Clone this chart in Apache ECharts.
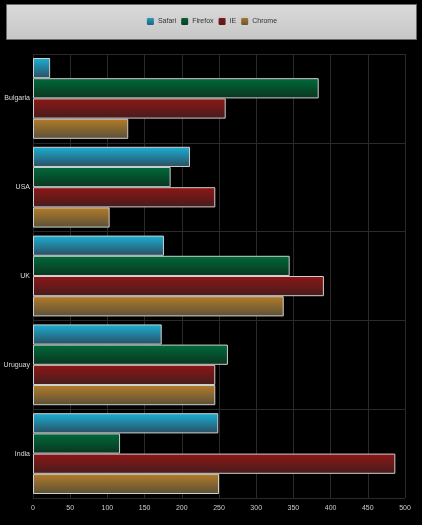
<!DOCTYPE html>
<html>
<head>
<meta charset="utf-8">
<style>
  html, body { margin: 0; padding: 0; background: #000; }
  #chart { width: 422px; height: 525px; }
</style>
<script src="https://cdn.jsdelivr.net/npm/echarts@6/dist/echarts.min.js"></script>
</head>
<body>
<div id="chart"></div>
<script>
const countries = ['Bulgaria', 'USA', 'UK', 'Uruguay', 'India']
const safari = [23, 211, 176, 173, 249]
const firefox = [384, 185, 345, 262, 117]
const ie = [259, 245, 391, 245, 487]
const chrome = [128, 103, 337, 245, 250]
const xTicks = [0, 50, 100, 150, 200, 250, 300, 350, 400, 450, 500]

// top / bottom gradient colours per browser
const colors = {
  Safari: ['#1bb0d4', '#2a4e62'],
  Firefox: ['#006a3a', '#0a3520'],
  IE: ['#8e1616', '#461c1c'],
  Chrome: ['#b47c28', '#5a5038']
}

function grad(name) {
  const c = colors[name]
  return new echarts.graphic.LinearGradient(0, 0, 0, 1, [
    { offset: 0, color: c[0] },
    { offset: 1, color: c[1] }
  ])
}

function makeSeries(name, data) {
  return {
    name: name,
    type: 'bar',
    data: data,
    barGap: '0%',
    barCategoryGap: '9%',
    itemStyle: {
      color: grad(name),
      borderColor: '#cfcfcf',
      borderWidth: 1
    }
  }
}

const chart = echarts.init(document.getElementById('chart'))
chart.setOption({
  backgroundColor: '#000',
  animation: false,
  graphic: [{
    type: 'rect',
    left: 6,
    top: 4,
    shape: { width: 410, height: 35 },
    style: {
      fill: new echarts.graphic.LinearGradient(0, 0, 0, 1, [
        { offset: 0, color: '#dadada' },
        { offset: 1, color: '#c6c6c6' }
      ]),
      stroke: '#6a6a6a',
      lineWidth: 1
    },
    z: -1
  }],
  legend: {
    top: 11,
    left: 'center',
    icon: 'roundRect',
    itemWidth: 9,
    itemHeight: 9,
    itemGap: 3,
    textStyle: { color: '#333', fontSize: 7, fontFamily: 'Liberation Sans', padding: [0, 0, 0, -2] },
    data: ['Safari', 'Firefox', 'IE', 'Chrome']
  },
  grid: {
    left: 33,
    right: 17,
    top: 54,
    bottom: 27,
    outerBoundsMode: 'none'
  },
  xAxis: {
    type: 'value',
    min: 0,
    max: 500,
    interval: 50,
    axisLine: { show: false },
    axisTick: { show: false },
    axisLabel: {
      color: '#ccc',
      fontSize: 7,
      fontFamily: 'Liberation Sans',
      margin: 7,
      formatter: v => xTicks.indexOf(v) >= 0 ? String(v) : ''
    },
    splitLine: { lineStyle: { color: '#2a2a2a', width: 1 } }
  },
  yAxis: {
    type: 'category',
    inverse: true,
    data: countries,
    axisLine: { show: false },
    axisTick: { show: false },
    axisLabel: { color: '#ddd', fontSize: 7, fontFamily: 'Liberation Sans', margin: 3 },
    splitLine: { show: true, lineStyle: { color: '#2a2a2a', width: 1 } }
  },
  series: [
    makeSeries('Safari', safari),
    makeSeries('Firefox', firefox),
    makeSeries('IE', ie),
    makeSeries('Chrome', chrome)
  ]
})
</script>
</body>
</html>
